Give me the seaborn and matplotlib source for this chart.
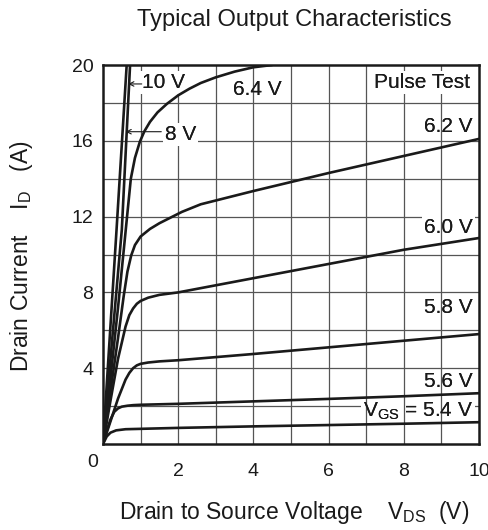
import matplotlib
matplotlib.use("Agg")
import matplotlib.pyplot as plt
import numpy as np
import pandas as pd
import seaborn as sns

sns.set_theme(style="white")
plt.rcParams["font.family"] = ["Liberation Sans", "DejaVu Sans"]
plt.rcParams["mathtext.default"] = "regular"

# V_DS (V) / I_D (A), one pair of lists per gate voltage
vgs_54_x = [0, 0.1, 0.2, 0.35, 0.6, 1, 2, 4, 6, 8, 10]
vgs_54_y = [0, 0.4, 0.6, 0.72, 0.78, 0.8, 0.85, 0.93, 1.0, 1.07, 1.15]

vgs_56_x = [0, 0.1, 0.2, 0.3, 0.4, 0.5, 0.65, 0.8, 1, 2, 4, 6, 8, 10]
vgs_56_y = [0, 0.7, 1.3, 1.7, 1.88, 1.97, 2.02, 2.05, 2.07, 2.12, 2.25, 2.38, 2.52, 2.68]

vgs_58_x = [0, 0.2, 0.4, 0.6, 0.7, 0.8, 0.9, 1.0, 1.2, 1.5, 2, 4, 6, 8, 10]
vgs_58_y = [0, 1.2, 2.4, 3.4, 3.75, 4.0, 4.15, 4.23, 4.3, 4.36, 4.42, 4.75, 5.1, 5.45, 5.8]

vgs_60_x = [0, 0.2, 0.4, 0.6, 0.7, 0.8, 0.9, 1.0, 1.2, 1.5, 2, 4, 6, 8, 10]
vgs_60_y = [0, 2.3, 4.5, 6.2, 6.8, 7.15, 7.4, 7.55, 7.72, 7.87, 8.0, 8.75, 9.5, 10.25, 10.87]

vgs_62_x = [0, 0.2, 0.4, 0.55, 0.65, 0.75, 0.85, 1.0, 1.25, 1.5, 1.8, 2.1, 2.6, 3.2, 4, 6, 8, 10]
vgs_62_y = [0, 2.8, 5.6, 7.8, 9.1, 9.95, 10.5, 10.95, 11.35, 11.65, 11.95, 12.25, 12.65, 12.95, 13.35, 14.3, 15.2, 16.1]

vgs_64_x = [0, 0.2, 0.4, 0.55, 0.64, 0.74, 0.85, 0.98, 1.1, 1.25, 1.45, 1.7, 2, 2.3, 2.6, 3.0, 3.5, 4, 4.5]
vgs_64_y = [0, 3.5, 7.2, 10.2, 12, 14, 15.1, 15.95, 16.5, 17.0, 17.5, 17.95, 18.4, 18.75, 19.05, 19.35, 19.65, 19.88, 20.0]

vgs_8_x = [0, 0.5, 0.72]
vgs_8_y = [0, 11.3, 20.0]

vgs_10_x = [0, 0.36, 0.63]
vgs_10_y = [0, 11.3, 20.0]

curves = {
    "5.4": (vgs_54_x, vgs_54_y),
    "5.6": (vgs_56_x, vgs_56_y),
    "5.8": (vgs_58_x, vgs_58_y),
    "6.0": (vgs_60_x, vgs_60_y),
    "6.2": (vgs_62_x, vgs_62_y),
    "6.4": (vgs_64_x, vgs_64_y),
    "8": (vgs_8_x, vgs_8_y),
    "10": (vgs_10_x, vgs_10_y),
}

df = pd.concat(
    [pd.DataFrame({"vds": x, "id": y, "vgs": k}) for k, (x, y) in curves.items()],
    ignore_index=True,
)

x_ticks = [2, 4, 6, 8, 10]
y_ticks = [4, 8, 12, 16, 20]

fig = plt.figure(figsize=(4.89, 5.30), dpi=100)
ax = fig.add_axes([103 / 489, 1 - 444 / 530, 376 / 489, 379 / 530])

# grid: horizontal lines low (boxes hide them), vertical ones above the small boxes
for gy in np.arange(2, 20, 2):
    ax.axhline(gy, color="#555555", lw=0.9, zorder=1)
for gx in np.arange(1, 10, 1):
    ax.axvline(gx, color="#555555", lw=0.9, zorder=2)

sns.lineplot(data=df, x="vds", y="id", hue="vgs", palette=["#1a1a1a"] * len(curves),
             sort=False, estimator=None, legend=False, lw=1.9, ax=ax, zorder=5)

ax.set_xlim(0, 10)
ax.set_ylim(0, 20)
ax.set_xticks(x_ticks)
ax.set_yticks(y_ticks)
ax.tick_params(axis="both", length=0, labelsize=14, colors="#1a1a1a")
ax.tick_params(axis="x", pad=14)
ax.tick_params(axis="y", pad=7)
ax.set_xlabel("")
ax.set_ylabel("")
for s in ax.spines.values():
    s.set_visible(True)
    s.set_color("#1a1a1a")
    s.set_linewidth(1.8)
    s.set_zorder(6)

ax.text(-0.27, -0.95, "0", ha="center", va="center", fontsize=14, color="#1a1a1a", clip_on=False)


def label(x, y, s, ha="right", cover_all=False):
    z = 2.5 if cover_all else 1.5
    ax.text(x, y, s, ha=ha, va="baseline", fontsize=15, color="#1a1a1a", zorder=z,
            bbox=dict(boxstyle="square,pad=0.1", fc="white", ec="none"))
    ax.text(x, y, s, ha=ha, va="baseline", fontsize=15, color="#1a1a1a", zorder=4)


label(9.76, 18.8, "Pulse Test", cover_all=True)
label(4.1, 18.4, "6.4 V", ha="center")
label(9.84, 16.46, "6.2 V")
label(9.84, 11.13, "6.0 V")
label(9.84, 6.91, "5.8 V")
label(9.84, 3.0, "5.6 V")
label(9.84, 1.42, "V$_{GS}$ = 5.4 V")
label(1.03, 18.79, "10 V", ha="left", cover_all=True)
label(1.65, 16.04, "8 V", ha="left", cover_all=True)

arrow = dict(arrowstyle="->", color="#1a1a1a", lw=0.8, shrinkA=0, shrinkB=0, mutation_scale=8)
ax.annotate("", xy=(0.67, 19.0), xytext=(1.03, 19.0), arrowprops=arrow, zorder=7)
ax.annotate("", xy=(0.6, 16.48), xytext=(1.55, 16.48), arrowprops=arrow, zorder=7)

fig.text(294 / 489, 1 - 20 / 530, "Typical Output Characteristics", ha="center", va="center",
         fontsize=17, color="#1a1a1a")
fig.text(294 / 489, 1 - 512 / 530, "Drain to Source Voltage    V$_{DS}$  (V)", ha="center",
         va="center", fontsize=16.5, color="#1a1a1a")
fig.text(22 / 489, 1 - 256 / 530, "Drain Current    I$_{D}$   (A)", ha="center", va="center",
         rotation=90, fontsize=16.5, color="#1a1a1a")

fig.savefig("out.png", dpi=100, facecolor="white")
